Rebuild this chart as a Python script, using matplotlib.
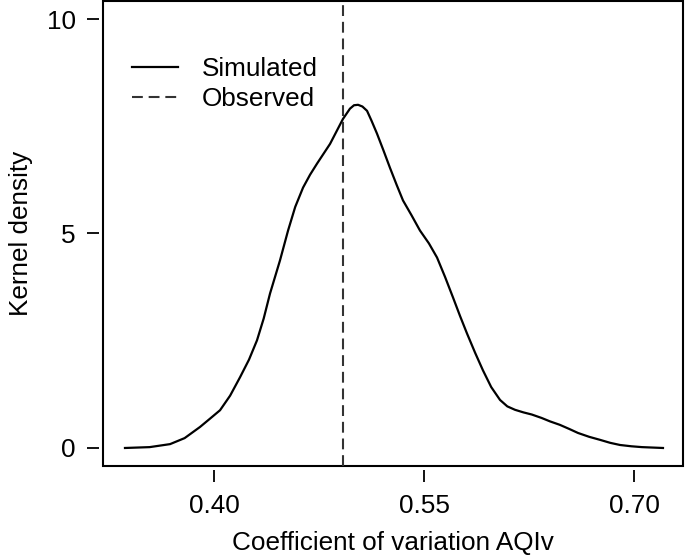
import matplotlib.pyplot as plt
from matplotlib.patches import Rectangle

plt.rcParams['font.family'] = ['Liberation Sans', 'DejaVu Sans']

# kernel density of simulated coefficient of variation
cv = [0.3364, 0.354, 0.3686, 0.379, 0.390, 0.397, 0.4043, 0.4115, 0.4186, 0.4250,
      0.4307, 0.4355, 0.440, 0.4471, 0.4529, 0.458, 0.4636, 0.4686, 0.4736, 0.4829,
      0.4921, 0.4971, 0.5000, 0.5029, 0.5060, 0.5093, 0.5125, 0.5164, 0.5210, 0.5257,
      0.5305, 0.5350, 0.541, 0.5471, 0.5535, 0.5593, 0.5650, 0.5707, 0.5757, 0.5807,
      0.5865, 0.5921, 0.598, 0.6043, 0.6095, 0.615, 0.621, 0.627, 0.634, 0.640,
      0.647, 0.654, 0.660, 0.668, 0.6757, 0.683, 0.690, 0.698, 0.7057, 0.7207]
density = [0.0, 0.02, 0.09, 0.23, 0.49, 0.68, 0.88, 1.22, 1.65, 2.06,
           2.51, 3.02, 3.60, 4.37, 5.07, 5.62, 6.07, 6.37, 6.63, 7.09,
           7.67, 7.91, 7.99, 8.00, 7.96, 7.86, 7.63, 7.33, 6.94, 6.53,
           6.13, 5.77, 5.43, 5.07, 4.77, 4.44, 3.99, 3.51, 3.08, 2.67,
           2.22, 1.81, 1.42, 1.12, 0.97, 0.89, 0.83, 0.78, 0.70, 0.62,
           0.54, 0.44, 0.35, 0.26, 0.19, 0.12, 0.07, 0.04, 0.02, 0.0]
observed = 0.492

x_ticks = [0.40, 0.55, 0.70]
x_labels = ['0.40', '0.55', '0.70']
y_ticks = [0, 5, 10]
y_labels = ['0', '5', '10']

fs = 18.8

fig = plt.figure(figsize=(6.85, 5.57), dpi=100)
ax = fig.add_axes([103/685, 1 - 466/557, 580/685, 465/557])

ax.plot(cv, density, color='black', lw=1.6, label='Simulated',
        solid_joinstyle='round')
ax.axvline(observed, color='#333333', lw=1.5, dashes=(5.2, 2.8), label='Observed')

ax.set_xlim(0.3207, 0.7350)
ax.set_ylim(-0.42, 10.42)
ax.set_xticks(x_ticks, x_labels)
ax.set_yticks(y_ticks, y_labels)

for s in ax.spines.values():
    s.set_visible(False)
ax.spines['left'].set_position(('outward', 3))
ax.spines['bottom'].set_position(('outward', 3))
ax.add_patch(Rectangle((0, 0), 1, 1, transform=ax.transAxes, fill=False,
                       lw=1.5, ec='black', clip_on=False))

ax.tick_params(axis='x', direction='out', length=8.5, width=1.3, pad=9, labelsize=fs)
ax.tick_params(axis='y', direction='out', length=8.5, width=1.3, pad=8, labelsize=fs)

ax.set_xlabel('Coefficient of variation AQIv', fontsize=fs, labelpad=9)
ax.set_ylabel('Kernel density', fontsize=fs, labelpad=10)

ax.legend(loc='upper left', bbox_to_anchor=(132/685, 1 - 57/557),
          bbox_transform=fig.transFigure, frameon=False, fontsize=fs,
          borderpad=0, borderaxespad=0, handlelength=1.75, handletextpad=0.92,
          labelspacing=0.22)

fig.savefig('out.png', dpi=100)
